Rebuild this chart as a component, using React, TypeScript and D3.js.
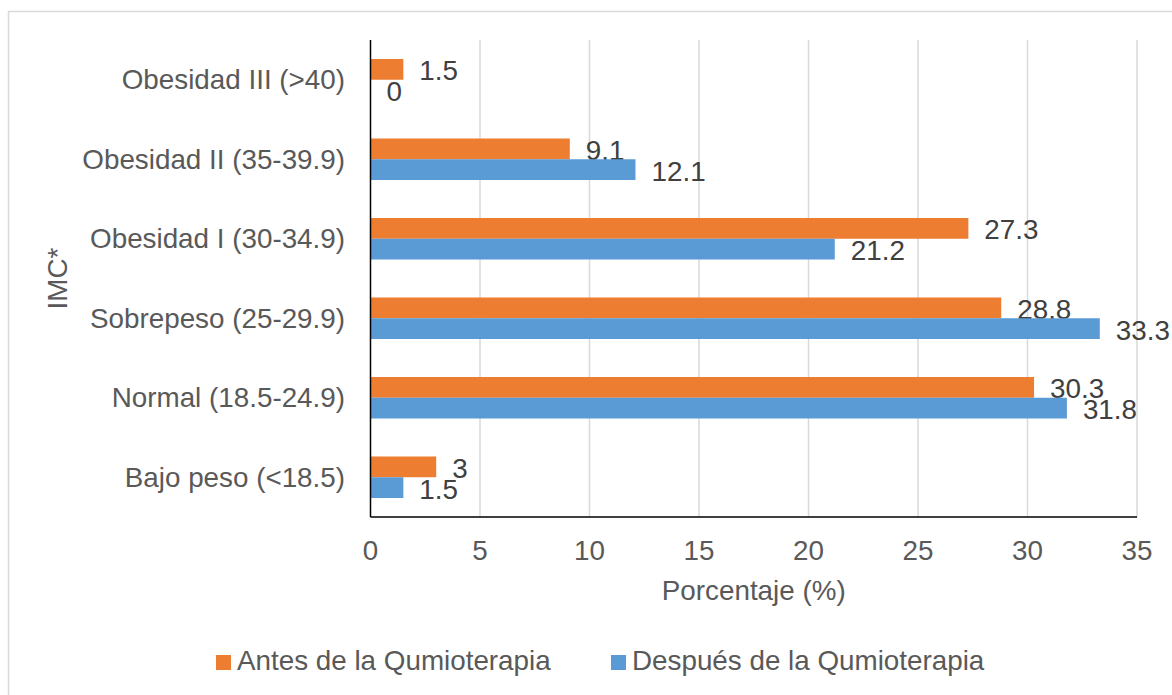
import React from "react";
import * as d3 from "d3";

const categories = [
  "Obesidad III (>40)",
  "Obesidad II (35-39.9)",
  "Obesidad I (30-34.9)",
  "Sobrepeso (25-29.9)",
  "Normal (18.5-24.9)",
  "Bajo peso (<18.5)",
];
const antes = [1.5, 9.1, 27.3, 28.8, 30.3, 3];
const despues = [0, 12.1, 21.2, 33.3, 31.8, 1.5];
const seriesNames = ["Antes de la Qumioterapia", "Después de la Qumioterapia"];
const seriesColors = ["#ED7D31", "#5B9BD5"];
const xTicks = [0, 5, 10, 15, 20, 25, 30, 35];

const FONT = "'Liberation Sans', Arial, sans-serif";

export default function App() {
  const W = 1172, H = 695;
  const left = 370.5, right = 1137, top = 40, bottom = 517;
  const x = d3.scaleLinear().domain([0, 35]).range([left, right]);
  const y = d3.scaleBand<string>().domain(categories).range([top, bottom]).paddingInner(0.478).paddingOuter(0.239);
  const sub = d3.scaleBand<number>().domain([0, 1]).range([0, y.bandwidth()]);
  const series = [antes, despues];
  const fs = 27.8;

  return (
    <svg width={W} height={H} style={{ position: "absolute", left: 0, top: 0, background: "#fff" }} fontFamily={FONT}>
      <rect x={8.5} y={11.5} width={1170} height={700} fill="#fff" stroke="#D9D9D9" strokeWidth={1.5} />
      {xTicks.slice(1).map((t) => (
        <line key={t} x1={x(t)} x2={x(t)} y1={top} y2={bottom} stroke="#D9D9D9" strokeWidth={1.5} />
      ))}
      {series.map((vals, si) =>
        vals.map((v, i) => {
          const by = (y(categories[i]) as number) + (sub(si) as number);
          const bh = sub.bandwidth();
          return (
            <g key={`${si}-${i}`}>
              <rect x={x(0)} y={by} width={x(v) - x(0)} height={bh} fill={seriesColors[si]} />
              <text x={x(v) + 16} y={by + bh / 2 + 11} fontSize={fs} fill="#404040">{String(v)}</text>
            </g>
          );
        })
      )}
      <line x1={left} x2={left} y1={top} y2={bottom} stroke="#000" strokeWidth={1.5} />
      <line x1={left} x2={right} y1={bottom} y2={bottom} stroke="#000" strokeWidth={1.5} />
      {categories.map((c) => (
        <text key={c} x={345} y={(y(c) as number) + y.bandwidth() / 2 + 9.5} textAnchor="end" fontSize={fs} fill="#595959">{c}</text>
      ))}
      {xTicks.map((t) => (
        <text key={t} x={x(t)} y={560} textAnchor="middle" fontSize={fs} fill="#595959">{t}</text>
      ))}
      <text x={(left + right) / 2} y={600} textAnchor="middle" fontSize={fs} fill="#595959">Porcentaje (%)</text>
      <text transform={`translate(67,${(top + bottom) / 2}) rotate(-90)`} textAnchor="middle" fontSize={fs} fill="#595959">IMC*</text>
      {seriesNames.map((n, i) => {
        const lx = i === 0 ? 216 : 611;
        return (
          <g key={n}>
            <rect x={lx} y={655} width={15} height={15} fill={seriesColors[i]} />
            <text x={lx + 21} y={670} fontSize={fs} fill="#595959">{n}</text>
          </g>
        );
      })}
    </svg>
  );
}
